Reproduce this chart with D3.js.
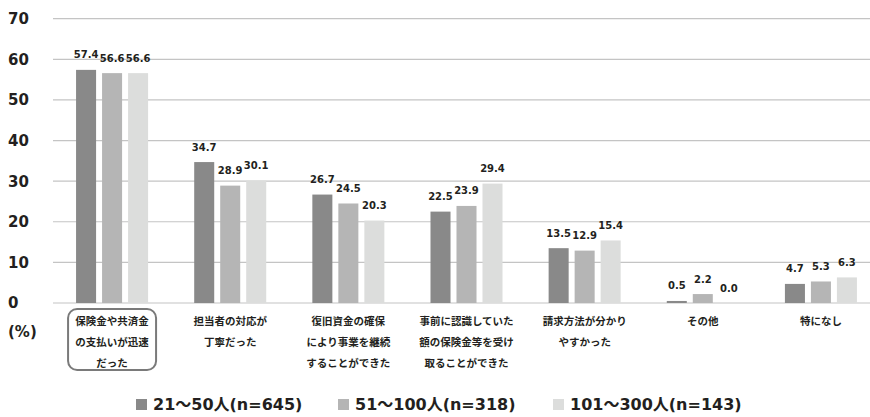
<!DOCTYPE html>
<html>
<head>
<meta charset="utf-8">
<script src="https://cdn.jsdelivr.net/npm/d3@7"></script>
<style>
  html, body { margin: 0; padding: 0; background: #fff; }
  svg { display: block; }
  text { font-family: "DejaVu Sans", "Noto Sans CJK JP", sans-serif; font-weight: bold; }
  .jp { font-family: "Noto Sans CJK JP", sans-serif; }
</style>
</head>
<body>
<svg id="chart" width="870" height="417"></svg>
<script>
const categories = [
  ["保険金や共済金", "の支払いが迅速", "だった"],
  ["担当者の対応が", "丁寧だった"],
  ["復旧資金の確保", "により事業を継続", "することができた"],
  ["事前に認識していた", "額の保険金等を受け", "取ることができた"],
  ["請求方法が分かり", "やすかった"],
  ["その他"],
  ["特になし"]
];
const seriesNames = ["21～50人(n=645)", "51～100人(n=318)", "101～300人(n=143)"];
const series1 = [57.4, 34.7, 26.7, 22.5, 13.5, 0.5, 4.7];
const series2 = [56.6, 28.9, 24.5, 23.9, 12.9, 2.2, 5.3];
const series3 = [56.6, 30.1, 20.3, 29.4, 15.4, 0.0, 6.3];
const yTicks = [0, 10, 20, 30, 40, 50, 60, 70];
const colors = ["#898989", "#b5b5b5", "#dcdddc"];

const allSeries = [series1, series2, series3];
const svg = d3.select("#chart");

const catKeys = categories.map((c, i) => i);
const x0 = d3.scaleBand().domain(catKeys).range([53, 880]).paddingInner(0).paddingOuter(0);
const x1 = d3.scaleBand().domain([0, 1, 2]).range([0, x0.bandwidth()]).paddingInner(0.23).paddingOuter(0.887);
const y = d3.scaleLinear().domain([0, 70]).range([303, 18.7]);

// gridlines
svg.append("g").selectAll("line").data(yTicks).join("line")
  .attr("x1", 53).attr("x2", 880)
  .attr("y1", d => y(d)).attr("y2", d => y(d))
  .attr("stroke", "#c4c4c4").attr("stroke-width", 1.2);

// y tick labels
svg.append("g").selectAll("text").data(yTicks).join("text")
  .attr("x", 8).attr("y", d => y(d)).attr("dy", "0.36em")
  .attr("font-size", 15).attr("fill", "#231f20")
  .text(d => d);

svg.append("text").attr("x", 8).attr("y", 332).attr("dy", "0.36em")
  .attr("font-size", 15).attr("fill", "#231f20").text("(%)");

// bars
const groups = svg.append("g").selectAll("g").data(catKeys).join("g")
  .attr("transform", d => `translate(${x0(d)},0)`);

groups.selectAll("rect").data(i => allSeries.map((s, k) => ({k, v: s[i]}))).join("rect")
  .attr("x", d => x1(d.k)).attr("width", x1.bandwidth())
  .attr("y", d => y(d.v)).attr("height", d => y(0) - y(d.v))
  .attr("fill", d => colors[d.k]);

groups.selectAll("text.val").data(i => allSeries.map((s, k) => ({k, v: s[i]}))).join("text")
  .attr("class", "val")
  .attr("x", d => x1(d.k) + x1.bandwidth() / 2)
  .attr("y", d => y(d.v) - 11.5)
  .attr("text-anchor", "middle").attr("font-size", 10).attr("fill", "#231f20")
  .text(d => d.v.toFixed(1));

// category labels
const labelG = svg.append("g");
categories.forEach((lines, i) => {
  const cx = x0(i) + x0.bandwidth() / 2;
  lines.forEach((ln, j) => {
    labelG.append("text").attr("class", "jp")
      .attr("x", cx).attr("y", 321 + j * 21).attr("dy", "0.35em")
      .attr("text-anchor", "middle").attr("font-size", 10.5).attr("fill", "#231f20")
      .text(ln);
  });
});

// rounded box around first label
svg.append("rect")
  .attr("x", x0(0) + x0.bandwidth() / 2 - 44).attr("y", 309)
  .attr("width", 88).attr("height", 61).attr("rx", 9)
  .attr("fill", "none").attr("stroke", "#7a7a7a").attr("stroke-width", 2);

// legend
const legendX = [136, 338, 553];
const leg = svg.append("g").selectAll("g").data(seriesNames).join("g")
  .attr("transform", (d, i) => `translate(${legendX[i]},399)`);
leg.append("rect").attr("width", 11).attr("height", 11).attr("fill", (d, i) => colors[i]);
leg.append("text").attr("x", 17).attr("y", 5.5).attr("dy", "0.36em")
  .attr("font-size", 16).attr("fill", "#231f20").text(d => d);
</script>
</body>
</html>
